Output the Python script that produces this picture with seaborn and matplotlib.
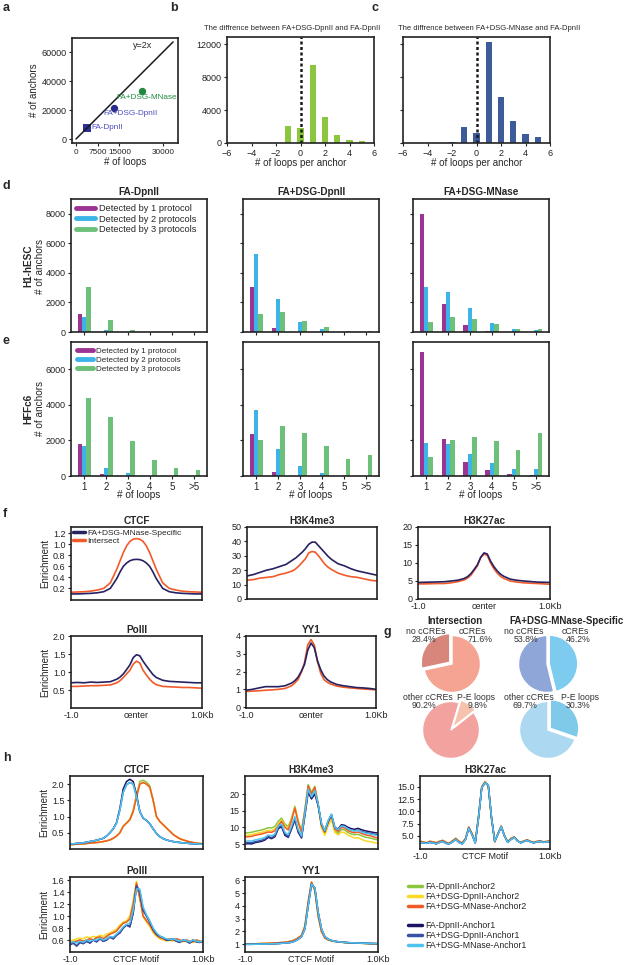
import matplotlib
matplotlib.use("Agg")
import matplotlib.pyplot as plt
from matplotlib.lines import Line2D
import numpy as np
import pandas as pd
import seaborn as sns

W, H = 625, 965

# ---------------- data ----------------
# a: loops vs anchors
samples = ["FA-DpnII", "FA+DSG-DpnII", "FA+DSG-MNase"]
n_loops = [3800, 13100, 22800]
n_anchors = [7600, 21400, 33100]
line_x = np.array([0, 33500])

# b, c: difference in loops per anchor
diff_bins = [-2, -1, 0, 1, 2, 3, 4, 5]
diff_dsg = [60, 2100, 1850, 9450, 3100, 970, 360, 200]
diff_mnase = [150, 1900, 1250, 12200, 5600, 2660, 1090, 730]

# d, e: anchors by number of loops, split by how many protocols detect them
loop_cats = ["1", "2", "3", "4", "5", ">5"]
prot_groups = ["Detected by 1 protocol", "Detected by 2 protocols", "Detected by 3 protocols"]
h1_fa_dpn = [[1200, 0, 0, 0, 0, 0], [1040, 110, 0, 0, 0, 0], [3020, 800, 130, 0, 0, 0]]
h1_dsg_dpn = [[3070, 250, 0, 0, 0, 0], [5250, 2230, 680, 180, 0, 0], [1250, 1320, 750, 340, 100, 70]]
h1_dsg_mnase = [[7960, 1890, 480, 100, 0, 0], [3070, 2730, 1620, 610, 200, 110], [660, 1020, 890, 520, 200, 200]]
hff_fa_dpn = [[1785, 130, 0, 0, 0, 0], [1670, 430, 150, 0, 0, 0], [4370, 3300, 1990, 900, 450, 340]]
hff_dsg_dpn = [[2350, 210, 0, 0, 0, 0], [3700, 1520, 540, 150, 30, 0], [2030, 2780, 2440, 1710, 960, 1200]]
hff_dsg_mnase = [[6980, 2070, 790, 320, 110, 50], [1840, 1780, 1240, 710, 390, 390], [1070, 2030, 2210, 1990, 1460, 2440]]

# f: enrichment profiles around loop anchors
pos_f = [-1, -.9, -.8, -.7, -.6, -.5, -.4, -.3, -.25, -.2, -.15, -.1, -.05, 0,
         .05, .1, .15, .2, .25, .3, .4, .5, .6, .7, .8, .9, 1]
f_ctcf_spec = [.1, .1, .105, .11, .12, .14, .2, .38, .5, .6, .66, .7, .72, .725, .72, .7, .66, .6, .5, .38, .2, .14, .12, .11, .105, .1, .1]
f_ctcf_int = [.13, .135, .14, .15, .17, .2, .3, .55, .7, .85, .97, 1.05, 1.09, 1.1, 1.09, 1.05, .97, .85, .7, .55, .3, .2, .17, .15, .14, .135, .13]
f_k4_spec = [16, 17, 18.5, 20, 21, 22.5, 24, 27, 28.5, 30.5, 32.5, 35, 38, 39.5, 39.5, 37, 34.5, 32, 29.5, 27.5, 24.5, 23, 21, 19.5, 18.5, 17.5, 16.5]
f_k4_int = [13, 13.5, 14.5, 15, 15.5, 17, 18, 19.5, 21, 23, 25.5, 28, 32, 33, 32.5, 30, 27, 24, 22, 20.5, 18, 16.5, 15.5, 15, 14, 13, 12.5]
f_k27_spec = [4.6, 4.65, 4.7, 4.75, 4.8, 5.0, 5.2, 5.7, 6.2, 7.0, 8.2, 9.5, 11.6, 12.8, 12.5, 10.5, 9.0, 7.8, 6.9, 6.3, 5.5, 5.2, 5.0, 4.85, 4.7, 4.65, 4.6]
f_k27_int = [4.2, 4.2, 4.25, 4.3, 4.3, 4.5, 4.8, 5.3, 5.8, 6.6, 7.9, 9.2, 11.5, 12.5, 12.1, 10.0, 8.4, 7.2, 6.3, 5.7, 5.0, 4.7, 4.5, 4.4, 4.3, 4.2, 4.1]
f_pol_spec = [.7, .71, .7, .72, .71, .72, .73, .8, .86, .95, 1.07, 1.2, 1.4, 1.48, 1.45, 1.3, 1.17, 1.05, .93, .85, .77, .74, .73, .72, .71, .7, .7]
f_pol_int = [.6, .6, .61, .62, .62, .63, .64, .7, .76, .85, .95, 1.05, 1.22, 1.3, 1.25, 1.05, .92, .8, .71, .65, .6, .59, .58, .57, .57, .56, .55]
f_yy1_spec = [.95, 1.0, 1.08, 1.15, 1.15, 1.15, 1.2, 1.35, 1.48, 1.68, 2.0, 2.4, 3.2, 3.6, 3.35, 2.6, 2.1, 1.75, 1.55, 1.42, 1.27, 1.2, 1.15, 1.1, 1.08, 1.05, 1.0]
f_yy1_int = [.88, .9, .92, .95, .97, 1.0, 1.05, 1.2, 1.35, 1.55, 1.95, 2.5, 3.5, 3.8, 3.5, 2.55, 1.9, 1.55, 1.4, 1.3, 1.18, 1.12, 1.08, 1.05, 1.02, 1.0, .97]

# g: pie fractions
int_cre = [28.4, 71.6]
spec_cre = [53.8, 46.2]
int_pe = [9.8, 90.2]
spec_pe = [30.3, 69.7]

# h: profiles around the CTCF motif, per anchor
pos_h = np.round(np.arange(-1, 1.001, 0.05), 2)
h_ctcf_a1 = [.15, .16, .17, .18, .19, .21, .23, .25, .27, .3, .33, .4, .5, .62, .8, 1.2, 1.75, 1.98, 2.05, 2.0, 1.62,
             1.15, .95, .88, .78, .62, .48, .38, .32, .28, .25, .23, .21, .2, .19, .18, .17, .16, .16, .15, .15]
h_ctcf_a1_fa = [.15, .16, .17, .18, .19, .21, .23, .25, .27, .3, .33, .4, .5, .62, .82, 1.25, 1.85, 2.08, 2.15, 2.08, 1.68,
                1.15, .95, .88, .78, .62, .48, .38, .32, .28, .25, .23, .21, .2, .19, .18, .17, .16, .16, .15, .15]
h_ctcf_a2 = [.13, .14, .15, .15, .16, .17, .18, .19, .2, .21, .23, .25, .28, .33, .4, .5, .7, .8, .9, 1.15, 1.6,
             2.0, 2.05, 2.0, 1.9, 1.5, 1.0, .85, .75, .65, .55, .45, .38, .32, .28, .25, .22, .2, .18, .17, .16]
h_ctcf_a2_fa = [.13, .14, .15, .15, .16, .17, .18, .19, .2, .21, .23, .25, .28, .33, .4, .5, .7, .8, .92, 1.2, 1.68,
                2.08, 2.12, 2.06, 1.95, 1.52, 1.0, .85, .75, .65, .55, .45, .38, .32, .28, .25, .22, .2, .18, .17, .16]

h_k4_fa_a2 = [8.3, 8.4, 8.5, 8.8, 9.0, 9.2, 9.5, 9.9, 9.8, 10.3, 11.8, 12.8, 11.0, 10.2, 12.8, 16.3, 12.0, 9.0, 15.2, 22.8, 20.5,
              22.3, 17.0, 10.2, 8.0, 11.0, 13.0, 9.0, 8.2, 9.4, 9.2, 8.4, 8.0, 7.8, 7.9, 7.5, 7.1, 6.9, 6.7, 6.4, 6.2]
h_k4_dsg_a2 = [7.6, 7.7, 7.8, 8.1, 8.3, 8.5, 8.8, 9.1, 9.0, 9.5, 11.0, 12.2, 10.4, 9.6, 12.3, 15.9, 11.6, 8.6, 14.8, 22.0, 19.6,
               21.5, 16.5, 9.8, 7.6, 10.4, 12.4, 8.5, 7.7, 8.6, 8.4, 7.6, 7.2, 6.8, 6.9, 6.4, 6.0, 5.8, 5.6, 5.4, 5.3]
h_k4_mn_a2 = [7.1, 7.2, 7.3, 7.6, 7.8, 8.0, 8.3, 8.6, 8.5, 9.0, 10.5, 11.8, 10.0, 9.2, 12.0, 15.8, 11.5, 8.5, 15.0, 22.5, 20.0,
              22.0, 17.0, 10.5, 8.5, 11.5, 13.5, 9.5, 8.8, 10.0, 9.8, 9.0, 8.6, 8.4, 8.6, 8.2, 7.8, 7.6, 7.4, 7.0, 6.8]
h_k4_fa_a1 = [5.0, 5.1, 5.0, 5.4, 5.6, 5.8, 6.2, 7.0, 6.6, 7.2, 9.6, 10.2, 7.6, 7.0, 9.5, 12.2, 8.5, 6.8, 13.5, 20.5, 18.5,
              20.0, 16.5, 11.0, 9.0, 11.8, 13.8, 10.0, 9.5, 10.8, 10.6, 10.0, 9.6, 9.4, 9.7, 9.3, 9.0, 8.8, 8.6, 8.4, 8.3]
h_k4_dsg_a1 = [5.3, 5.4, 5.4, 5.7, 5.9, 6.1, 6.5, 7.3, 6.9, 7.5, 9.9, 10.6, 8.0, 7.3, 9.9, 12.6, 8.9, 7.0, 13.8, 21.0, 19.0,
               20.6, 16.8, 11.0, 8.8, 11.8, 13.8, 9.9, 9.3, 10.5, 10.3, 9.6, 9.2, 9.0, 9.2, 8.8, 8.5, 8.3, 8.1, 7.9, 7.8]
h_k4_mn_a1 = [5.8, 5.9, 5.9, 6.2, 6.4, 6.6, 7.0, 7.7, 7.4, 8.0, 10.4, 11.0, 8.5, 7.8, 10.4, 13.2, 9.4, 7.4, 14.2, 21.5, 19.2,
              21.0, 17.0, 11.2, 9.0, 12.0, 14.0, 10.0, 9.3, 10.4, 10.2, 9.5, 9.1, 8.9, 9.1, 8.6, 8.3, 8.1, 7.9, 7.7, 7.5]

h_k27_a2 = [3.9, 3.8, 3.6, 3.9, 3.8, 3.6, 3.9, 4.1, 3.7, 3.5, 4.0, 4.5, 3.9, 3.6, 4.5, 6.8, 5.5, 3.8, 9.0, 15.0, 16.0,
            15.2, 8.5, 3.8, 5.5, 7.0, 5.0, 3.8, 4.5, 4.8, 4.0, 3.7, 4.0, 4.2, 3.9, 3.7, 3.9, 4.0, 3.8, 3.9, 4.0]
h_k27_a1 = [3.7, 3.6, 3.5, 3.7, 3.6, 3.4, 3.7, 3.9, 3.5, 3.4, 3.8, 4.3, 3.7, 3.4, 4.3, 6.6, 5.3, 3.6, 8.6, 14.8, 15.8,
            15.4, 8.8, 3.9, 5.4, 6.9, 5.0, 3.7, 4.3, 4.7, 4.0, 3.6, 3.9, 4.1, 3.8, 3.6, 3.8, 3.9, 3.7, 3.8, 3.9]

h_pol_a2 = [.55, .57, .58, .6, .58, .6, .62, .6, .64, .65, .62, .66, .7, .72, .75, .82, .88, .9, .95, 1.2, 1.55,
            1.3, 1.0, .92, .85, .75, .68, .64, .62, .6, .62, .6, .62, .6, .58, .6, .58, .57, .6, .58, .57]
h_pol_dsg_a2 = [.58, .6, .62, .63, .62, .65, .64, .66, .65, .68, .66, .7, .72, .75, .78, .85, .9, .92, 1.0, 1.25, 1.58,
                1.28, .98, .9, .82, .72, .66, .62, .6, .58, .6, .58, .6, .58, .57, .58, .56, .56, .58, .57, .56]
h_pol_a1 = [.52, .55, .5, .56, .54, .58, .55, .6, .57, .62, .58, .6, .65, .62, .68, .72, .8, .85, .82, 1.05, 1.5,
            1.4, 1.1, 1.0, .9, .78, .7, .66, .64, .6, .6, .62, .58, .56, .6, .58, .55, .6, .57, .56, .58]
h_pol_mn_a1 = [.55, .57, .55, .58, .56, .6, .58, .6, .6, .63, .6, .62, .66, .65, .7, .75, .82, .86, .88, 1.1, 1.45,
               1.45, 1.15, 1.02, .92, .8, .72, .67, .64, .62, .61, .62, .6, .58, .6, .59, .57, .6, .58, .57, .58]

h_yy1_a2 = [1.0, 1.02, 1.03, 1.04, 1.05, 1.06, 1.07, 1.08, 1.1, 1.11, 1.12, 1.14, 1.16, 1.2, 1.25, 1.35, 1.5, 1.7, 2.4, 4.3, 5.85,
            5.2, 3.2, 2.0, 1.5, 1.35, 1.27, 1.22, 1.19, 1.16, 1.14, 1.12, 1.11, 1.1, 1.09, 1.08, 1.07, 1.06, 1.05, 1.05, 1.04]
h_yy1_a1 = [1.0, 1.0, 1.0, 1.01, 1.01, 1.02, 1.02, 1.03, 1.04, 1.05, 1.06, 1.08, 1.1, 1.12, 1.16, 1.25, 1.4, 1.6, 2.2, 4.0, 5.7,
            5.4, 3.5, 2.2, 1.6, 1.4, 1.3, 1.24, 1.2, 1.17, 1.15, 1.13, 1.12, 1.11, 1.1, 1.09, 1.08, 1.07, 1.06, 1.06, 1.05]

# ---------------- style ----------------
sns.set_theme(style="ticks")
plt.rcParams["font.family"] = ["Liberation Sans", "DejaVu Sans"]
plt.rcParams["axes.linewidth"] = 1.2

prot_colors = ["#9c3494", "#3cb4e8", "#6cc07a"]
navy, red = "#262262", "#f15a29"
anchor_colors = {"FA-DpnII-Anchor2": "#8cc63f", "FA+DSG-DpnII-Anchor2": "#fbd924", "FA+DSG-MNase-Anchor2": "#f15a24",
                 "FA-DpnII-Anchor1": "#1b1464", "FA+DSG-DpnII-Anchor1": "#3953a4", "FA+DSG-MNase-Anchor1": "#4fc3ef"}

fig = plt.figure(figsize=(W / 100, H / 100), dpi=100)


def panel(x0, y0, x1, y1):
    ax = fig.add_axes([x0 / W, 1 - y1 / H, (x1 - x0) / W, (y1 - y0) / H])
    for s in ax.spines.values():
        s.set_linewidth(1.2)
        s.set_color("#222222")
    ax.tick_params(labelsize=6.5, length=2.5, width=0.8, pad=1.5, colors="#222222")
    return ax


def letter(x, y, s):
    fig.text(x / W, 1 - y / H, s, fontsize=9, fontweight="bold", va="center", ha="left")


def ftext(x, y, s, **kw):
    fig.text(x / W, 1 - y / H, s, va="center", ha="center", **kw)


# ---------------- a ----------------
letter(3, 8, "a")
ax = panel(72, 38, 178, 143)
sns.lineplot(x=line_x, y=2 * line_x, color="k", lw=1.1, ax=ax)
a_colors = ["#2e3192", "#2b2b8f", "#1f8a3f"]
a_text_colors = ["#4c4cc0", "#4c4cc0", "#1f8a3f"]
a_markers = ["s", "o", "o"]
a_offsets = [(3, 0, "left"), (12, -4, "center"), (3.5, -4.5, "center")]
for i, name in enumerate(samples):
    sns.scatterplot(x=[n_loops[i]], y=[n_anchors[i]], marker=a_markers[i], color=a_colors[i],
                    s=28, linewidth=0, ax=ax)
    dx, dy, ha = a_offsets[i]
    ax.annotate(name, (n_loops[i], n_anchors[i]), xytext=(dx, dy), textcoords="offset points",
                ha=ha, va="center", fontsize=5.9, color=a_text_colors[i])
ax.text(0.67, 0.93, "y=2x", transform=ax.transAxes, fontsize=6.5, ha="center", va="center")
ax.set_xlim(-1380, 35190)
ax.set_ylim(-2760, 69700)
ax.set_xticks([0, 7500, 15000, 30000])
ax.set_yticks([0, 20000, 40000, 60000])
ax.tick_params(axis="x", labelsize=5.9)
ax.set_xlabel("# of loops", fontsize=7, labelpad=1)
ax.set_ylabel("# of anchors", fontsize=7, labelpad=2)

# ---------------- b, c ----------------
letter(170, 8, "b")
letter(372, 8, "c")
for (x0, x1), vals, col, title, tx, show_y in [
        ((227, 374), diff_dsg, "#8cc63f", "The diffrence between FA+DSG-DpnII and FA-DpnII", 292, True),
        ((403, 550), diff_mnase, "#3d5a99", "The diffrence between FA+DSG-MNase and FA-DpnII", 489, False)]:
    ax = panel(x0, 37, x1, 143)
    sns.barplot(x=diff_bins, y=vals, native_scale=True, width=0.5, color=col, saturation=1,
                linewidth=0, ax=ax)
    ax.axvline(0, color="k", lw=1.8, ls=(0, (1.2, 1.0)))
    ax.set_xlim(-6, 6)
    ax.set_ylim(0, 12850)
    ax.set_xticks(range(-6, 7, 2))
    ax.set_yticks([0, 4000, 8000, 12000])
    if not show_y:
        ax.set_yticklabels([])
    ax.set_xlabel("# of loops per anchor", fontsize=7, labelpad=0)
    ax.set_ylabel("")
    ftext(tx, 29, title, fontsize=5.5)

# ---------------- d, e ----------------
letter(3, 186, "d")
letter(3, 341, "e")
cols = [(71, 207), (243, 379), (413, 549)]
col_titles = ["FA-DpnII", "FA+DSG-DpnII", "FA+DSG-MNase"]
rows = [((199, 332), [h1_fa_dpn, h1_dsg_dpn, h1_dsg_mnase], 9000, [0, 2000, 4000, 6000, 8000], 6.7, 0.35),
        ((342, 476), [hff_fa_dpn, hff_dsg_dpn, hff_dsg_mnase], 7520, [0, 2000, 4000, 6000], 5.8, 0.5)]
for r, ((y0, y1), sets, ymax, yt, leg_fs, leg_pad) in enumerate(rows):
    for c, ((x0, x1), counts) in enumerate(zip(cols, sets)):
        ax = panel(x0, y0, x1, y1)
        df = pd.DataFrame({"loops": loop_cats * 3,
                           "count": counts[0] + counts[1] + counts[2],
                           "group": [g for g in prot_groups for _ in loop_cats]})
        sns.barplot(data=df, x="loops", y="count", hue="group", palette=prot_colors, width=0.6,
                    saturation=1, linewidth=0, legend=False, ax=ax)
        ax.set_xlim(-0.6, 5.6)
        ax.set_ylim(0, ymax)
        ax.set_yticks(yt)
        ax.set_ylabel("")
        if c > 0:
            ax.set_yticklabels([])
        if r == 0:
            ax.set_xticklabels([])
            ax.set_xlabel("")
            ax.set_title(col_titles[c], fontsize=7.2, fontweight="bold", pad=3)
        else:
            ax.tick_params(axis="x", labelsize=7)
            ax.set_xlabel("# of loops", fontsize=7.2, labelpad=-1)
        if c == 0:
            handles = [Line2D([], [], color=pc, lw=3.5) for pc in prot_colors]
            ax.legend(handles, prot_groups, loc="upper left", frameon=False, fontsize=leg_fs,
                      handlelength=2.0, handletextpad=0.45, labelspacing=0.15,
                      borderaxespad=leg_pad, borderpad=0.2)
ftext(28, 266, "H1-hESC", fontsize=7.2, fontweight="bold", rotation=90)
ftext(40, 266, "# of anchors", fontsize=7.2, rotation=90)
ftext(28, 409, "HFFc6", fontsize=7.2, fontweight="bold", rotation=90)
ftext(40, 409, "# of anchors", fontsize=7.2, rotation=90)

# ---------------- f ----------------
letter(3, 514, "f")
f_panels = [
    ("CTCF", (71, 527, 202, 600), f_ctcf_spec, f_ctcf_int, (-0.01, 1.31), [0.2, 0.4, 0.6, 0.8, 1.0, 1.2], False, True),
    ("H3K4me3", (247, 527, 377, 599), f_k4_spec, f_k4_int, (0, 50), [0, 10, 20, 30, 40, 50], False, False),
    ("H3K27ac", (418, 527, 550, 599), f_k27_spec, f_k27_int, (0, 20), [0, 5, 10, 15, 20], True, False),
    ("PolII", (71, 636, 202, 708), f_pol_spec, f_pol_int, (0, 2.0), [0.5, 1.0, 1.5, 2.0], True, True),
    ("YY1", (246, 636, 376, 708), f_yy1_spec, f_yy1_int, (-0.05, 4.0), [0, 1, 2, 3, 4], True, False),
]
for name, rect, spec, inter, ylim, yt, xlab, ylab in f_panels:
    ax = panel(*rect)
    sns.lineplot(x=pos_f, y=inter, color=red, lw=1.2, ax=ax, label="Intersect")
    sns.lineplot(x=pos_f, y=spec, color=navy, lw=1.2, ax=ax, label="FA+DSG-MNase-Specific")
    ax.set_xlim(-1, 1)
    ax.set_ylim(*ylim)
    ax.set_yticks(yt)
    ax.set_xticks([-1, 0, 1])
    ax.set_xticklabels(["-1.0", "center", "1.0Kb"] if xlab else [])
    ax.tick_params(axis="x", length=0, pad=2.5)
    ax.set_title(name, fontsize=7.2, fontweight="bold", pad=2)
    ax.set_ylabel("Enrichment" if ylab else "", fontsize=7, labelpad=2)
    if name == "CTCF":
        hd = [Line2D([], [], color=navy, lw=2.5), Line2D([], [], color=red, lw=2.5)]
        ax.legend(hd, ["FA+DSG-MNase-Specific", "Intersect"], loc="upper left", frameon=False,
                  fontsize=6.0, handlelength=1.4, handletextpad=0.3, labelspacing=0.0,
                  borderaxespad=0.15, borderpad=0.1)
    else:
        ax.get_legend().remove()

# ---------------- g ----------------
letter(383, 632, "g")
ftext(455, 621, "Intersection", fontsize=7.0, fontweight="bold")
ftext(567, 621, "FA+DSG-MNase-Specific", fontsize=7.0, fontweight="bold")


def pie(cx, cy, vals, colors, explode, start, ccw, r=28.5):
    s = r * 1.2
    ax = fig.add_axes([(cx - s) / W, 1 - (cy + s) / H, 2 * s / W, 2 * s / H])
    ax.pie(vals, colors=colors, explode=explode, startangle=start, counterclock=ccw,
           wedgeprops=dict(edgecolor="white", linewidth=1.0))
    ax.set_xlim(-1.2, 1.2)
    ax.set_ylim(-1.2, 1.2)
    ax.set_aspect("equal")
    ax.axis("off")


pie(452, 664, int_cre, ["#d8867b", "#f5a493"], [0.1, 0], 90, True)
pie(547, 664, spec_cre, ["#8fa6d8", "#7dcbef"], [0, 0.08], 90, True)
pie(451, 730, int_pe, ["#f7c2ad", "#f2a3a0"], [0.1, 0], 38, True)
pie(548, 730, spec_pe, ["#7ecae8", "#acd8f2"], [0.1, 0], 90, False)
g_labels = [(426, 632, "no cCREs"), (424, 640, "28.4%"), (472, 632, "cCREs"), (480, 640, "71.6%"),
            (524, 632, "no cCREs"), (526, 640, "53.8%"), (575, 632, "cCREs"), (578, 640, "46.2%"),
            (428, 698, "other cCREs"), (424, 706, "90.2%"), (476, 698, "P-E loops"), (478, 706, "9.8%"),
            (529, 698, "other cCREs"), (525, 706, "69.7%"), (580, 698, "P-E loops"), (578, 706, "30.3%")]
for x, y, s in g_labels:
    ftext(x, y, s, fontsize=6.3, color="#333333")

# ---------------- h ----------------
letter(3, 758, "h")
h_panels = [
    ("CTCF", (70, 776, 203, 849), [h_ctcf_a2_fa, h_ctcf_a2, h_ctcf_a2, h_ctcf_a1_fa, h_ctcf_a1, h_ctcf_a1],
     (0, 2.25), [0.5, 1.0, 1.5, 2.0], False, True),
    ("H3K4me3", (245, 776, 378, 849), [h_k4_fa_a2, h_k4_dsg_a2, h_k4_mn_a2, h_k4_fa_a1, h_k4_dsg_a1, h_k4_mn_a1],
     (3.5, 25.4), [5, 10, 15, 20], False, False),
    ("H3K27ac", (420, 776, 550, 849), [h_k27_a2, h_k27_a2, h_k27_a2, h_k27_a1, h_k27_a1, h_k27_a1],
     (2.35, 17.2), [5.0, 7.5, 10.0, 12.5, 15.0], True, False),
    ("PolII", (70, 877, 203, 952), [h_pol_a2, h_pol_dsg_a2, h_pol_a2, h_pol_a1, h_pol_a1, h_pol_mn_a1],
     (0.4, 1.65), [0.6, 0.8, 1.0, 1.2, 1.4, 1.6], True, True),
    ("YY1", (245, 877, 378, 952), [h_yy1_a2, h_yy1_a2, h_yy1_a2, h_yy1_a1, h_yy1_a1, h_yy1_a1],
     (0.4, 6.25), [1, 2, 3, 4, 5, 6], True, False),
]
for name, rect, series, ylim, yt, xlab, ylab in h_panels:
    ax = panel(*rect)
    for (lab, col), vals in zip(anchor_colors.items(), series):
        sns.lineplot(x=pos_h, y=vals, color=col, lw=1.1, ax=ax)
    ax.set_xlim(-1, 1)
    ax.set_ylim(*ylim)
    ax.set_yticks(yt)
    if name == "H3K27ac":
        ax.set_yticklabels(["5.0", "7.5", "10.0", "12.5", "15.0"])
    ax.set_xticks([-1, 0, 1])
    ax.set_xticklabels(["-1.0", "CTCF Motif", "1.0Kb"] if xlab else [])
    ax.tick_params(axis="x", length=0, pad=2.5)
    ax.set_title(name, fontsize=7.2, fontweight="bold", pad=2)
    ax.set_ylabel("Enrichment" if ylab else "", fontsize=7, labelpad=2)

h_handles = []
h_labels = []
for i, (lab, col) in enumerate(anchor_colors.items()):
    if i == 3:
        h_handles.append(Line2D([], [], color="none"))
        h_labels.append("")
    h_handles.append(Line2D([], [], color=col, lw=2.5))
    h_labels.append(lab)
fig.legend(h_handles, h_labels, loc="upper left", bbox_to_anchor=(404 / W, 1 - 878 / H), frameon=False,
           fontsize=6.3, handlelength=1.5, handletextpad=0.4, labelspacing=0.08, borderpad=0)

fig.savefig("out.png", dpi=100)
